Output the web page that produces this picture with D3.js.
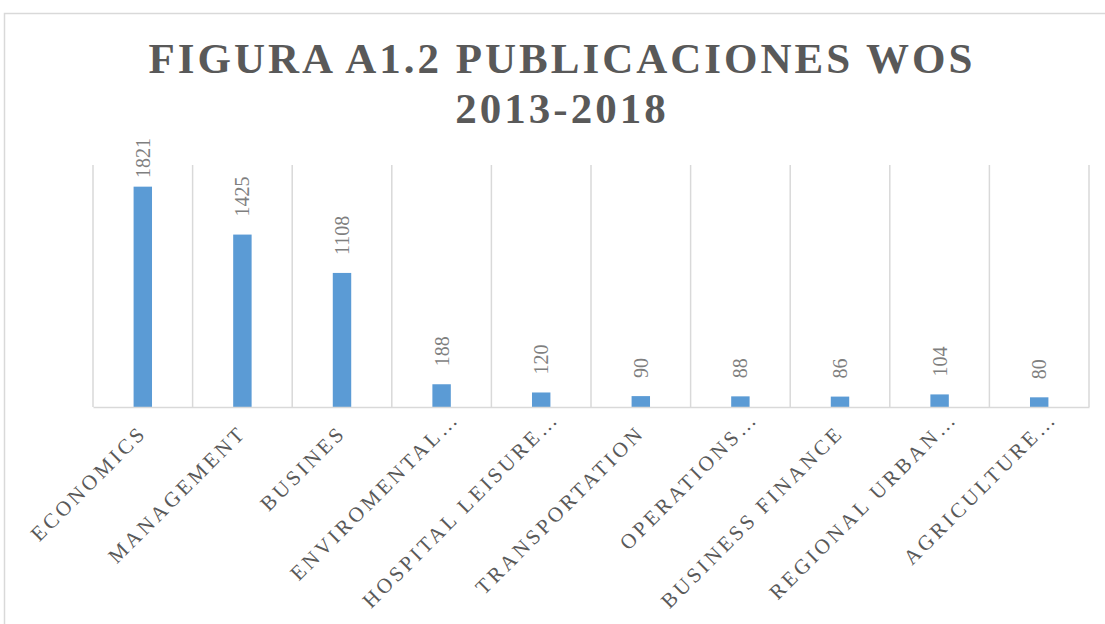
<!DOCTYPE html>
<html>
<head>
<meta charset="utf-8">
<script src="https://cdn.jsdelivr.net/npm/d3@7/dist/d3.min.js"></script>
<style>
  html, body { margin: 0; padding: 0; background: #ffffff; }
  svg { display: block; }
</style>
</head>
<body>
<svg id="chart" width="1105" height="624"></svg>
<script>
const titleLines = ["FIGURA A1.2 PUBLICACIONES WOS", "2013-2018"];
const categories = ["ECONOMICS", "MANAGEMENT", "BUSINES", "ENVIROMENTAL…", "HOSPITAL LEISURE…",
  "TRANSPORTATION", "OPERATIONS…", "BUSINESS FINANCE", "REGIONAL URBAN…", "AGRICULTURE…"];
const values = [1821, 1425, 1108, 188, 120, 90, 88, 86, 104, 80];
const yDomain = [0, 2000];

const svg = d3.select("#chart");
const W = 1105, H = 624;
const plot = { left: 93, right: 1089, top: 165, bottom: 407 };
const serif = "'Liberation Serif', 'Times New Roman', Times, serif";

svg.append("rect").attr("width", W).attr("height", H).attr("fill", "#fff");
// chart area border
svg.append("rect").attr("x", 4.5).attr("y", 13.5).attr("width", 1200).attr("height", 700)
  .attr("fill", "none").attr("stroke", "#d9d9d9").attr("stroke-width", 1.5);

const x = d3.scaleBand().domain(categories).range([plot.left, plot.right]).padding(0);
const y = d3.scaleLinear().domain(yDomain).range([plot.bottom, plot.top]);

// vertical gridlines at category boundaries
const bounds = categories.map(c => x(c)).concat([plot.right]);
svg.append("g").selectAll("line").data(bounds).join("line")
  .attr("x1", d => d).attr("x2", d => d)
  .attr("y1", plot.top).attr("y2", plot.bottom)
  .attr("stroke", "#d9d9d9").attr("stroke-width", 1.5);

// bars
const barW = x.bandwidth() * 0.185;
svg.append("g").selectAll("rect").data(values).join("rect")
  .attr("x", (d, i) => x(categories[i]) + x.bandwidth() / 2 - barW / 2)
  .attr("y", d => y(d))
  .attr("width", barW)
  .attr("height", d => y(0) - y(d))
  .attr("fill", "#5b9bd5");

// x axis line
const xAxis = d3.axisBottom(x).tickSize(0).tickFormat("");
svg.append("g").attr("transform", `translate(0,${plot.bottom})`).call(xAxis)
  .call(g => g.select(".domain").attr("stroke", "#d9d9d9").attr("stroke-width", 1.5));

// data labels (rotated)
svg.append("g").selectAll("text").data(values).join("text")
  .attr("transform", (d, i) => {
    const cx = x(categories[i]) + x.bandwidth() / 2;
    const yy = Math.max(y(d) - 18, 178);
    return `translate(${cx},${yy}) rotate(-90)`;
  })
  .attr("dominant-baseline", "central")
  .attr("font-family", serif).attr("font-size", 20).attr("fill", "#7f7f7f")
  .text(d => d);

// category labels rotated -45 (truncated labels let the ellipsis hang past the anchor)
svg.append("g").selectAll("text").data(categories).join("text")
  .attr("transform", c => {
    const cx = x(c) + x.bandwidth() / 2;
    return `translate(${cx + 5},${434}) rotate(-45)`;
  })
  .attr("x", c => c.endsWith("…") ? 20 : 0)
  .attr("text-anchor", "end")
  .attr("font-family", serif).attr("font-size", 21).attr("letter-spacing", "3.3px")
  .attr("fill", "#595959")
  .text(c => c);

// title
svg.append("g").selectAll("text").data(titleLines).join("text")
  .attr("x", 562).attr("y", (d, i) => 73 + i * 50)
  .attr("text-anchor", "middle")
  .attr("font-family", serif).attr("font-weight", "bold").attr("font-size", 43)
  .attr("letter-spacing", "3px")
  .attr("fill", "#595959")
  .text(d => d);
</script>
</body>
</html>
